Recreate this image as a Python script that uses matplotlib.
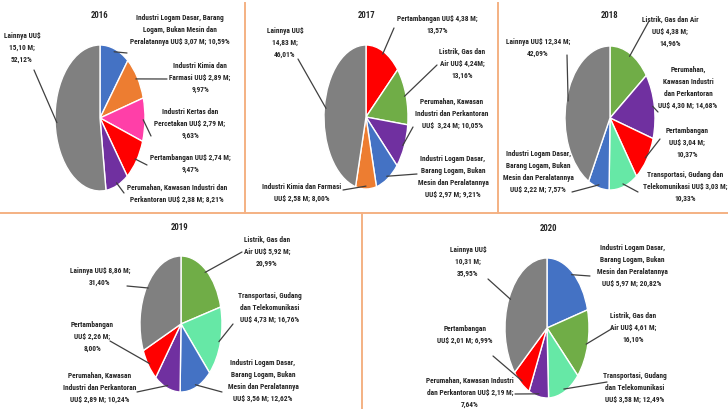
import numpy as np
import matplotlib
matplotlib.use("Agg")
import matplotlib.pyplot as plt
from matplotlib import font_manager as fm
from matplotlib.patches import Rectangle

W, H = 728, 410


def pick_font():
    # reference uses a narrow (Calibri-like) face; take a condensed one if present
    names = {f.name for f in fm.fontManager.ttflist}
    for n in ["Liberation Sans Narrow", "Roboto Condensed", "Open Sans Condensed",
              "Noto Sans Condensed", "DejaVu Sans Condensed", "Open Sans",
              "Noto Sans", "Liberation Sans"]:
        if n in names:
            return n
    return "DejaVu Sans"


FONT = [pick_font(), "DejaVu Sans"]

COLORS = {
    "logam": "#4472C4", "kimia": "#ED7D31", "kertas": "#FF3FA8",
    "tambang": "#FF0000", "rumah": "#7030A0", "listrik": "#70AD47",
    "transport": "#66E8A6", "lain": "#808080",
}

years = ["2016", "2017", "2018", "2019", "2020"]

# sectors clockwise from 12 o'clock, values in US$ billions (M) and shares (%)
sectors_2016 = ["logam", "kimia", "kertas", "tambang", "rumah", "lain"]
values_2016 = [3.07, 2.89, 2.79, 2.74, 2.38, 15.10]
pct_2016 = [10.59, 9.97, 9.63, 9.47, 8.21, 52.12]

sectors_2017 = ["tambang", "listrik", "rumah", "logam", "kimia", "lain"]
values_2017 = [4.38, 4.24, 3.24, 2.97, 2.58, 14.83]
pct_2017 = [13.57, 13.16, 10.05, 9.21, 8.00, 46.01]

sectors_2018 = ["listrik", "rumah", "tambang", "transport", "logam", "lain"]
values_2018 = [4.38, 4.30, 3.04, 3.03, 2.22, 12.34]
pct_2018 = [14.96, 14.68, 10.37, 10.33, 7.57, 42.09]

sectors_2019 = ["listrik", "transport", "logam", "rumah", "tambang", "lain"]
values_2019 = [5.92, 4.73, 3.56, 2.89, 2.26, 8.86]
pct_2019 = [20.99, 16.76, 12.62, 10.24, 8.00, 31.40]

sectors_2020 = ["logam", "listrik", "transport", "rumah", "tambang", "lain"]
values_2020 = [5.97, 4.61, 3.58, 2.19, 2.01, 10.31]
pct_2020 = [20.82, 16.10, 12.49, 7.64, 6.99, 35.95]

labels_2016 = [
    "Industri Logam Dasar, Barang\nLogam, Bukan Mesin dan\nPeralatannya UU$ {v} M; {p}%",
    "Industri Kimia dan\nFarmasi UU$ {v} M;\n{p}%",
    "Industri Kertas dan\nPercetakan UU$ {v} M;\n{p}%",
    "Pertambangan UU$ {v} M;\n{p}%",
    "Perumahan, Kawasan Industri dan\nPerkantoran UU$ {v} M; {p}%",
    "Lainnya UU$\n{v} M;\n{p}%",
]
labels_2017 = [
    "Pertambangan UU$ {v} M;\n{p}%",
    "Listrik, Gas dan\nAir UU$ {v}M;\n{p}%",
    "Perumahan, Kawasan\nIndustri dan Perkantoran\nUU$  {v} M; {p}%",
    "Industri Logam Dasar,\nBarang Logam, Bukan\nMesin dan Peralatannya\nUU$ {v} M; {p}%",
    "Industri Kimia dan Farmasi\nUU$ {v} M; {p}%",
    "Lainnya UU$\n{v} M;\n{p}%",
]
labels_2018 = [
    "Listrik, Gas dan Air\nUU$ {v} M;\n{p}%",
    "Perumahan,\nKawasan Industri\ndan Perkantoran\nUU$ {v} M; {p}%",
    "Pertambangan\nUU$ {v} M;\n{p}%",
    "Transportasi, Gudang dan\nTelekomunikasi UU$ {v} M;\n{p}%",
    "Industri Logam Dasar,\nBarang Logam, Bukan\nMesin dan Peralatannya\nUU$ {v} M; {p}%",
    "Lainnya UU$ {v} M;\n{p}%",
]
labels_2019 = [
    "Listrik, Gas dan\nAir UU$ {v} M;\n{p}%",
    "Transportasi, Gudang\ndan Telekomunikasi\nUU$ {v} M; {p}%",
    "Industri Logam Dasar,\nBarang Logam, Bukan\nMesin dan Peralatannya\nUU$ {v} M; {p}%",
    "Perumahan, Kawasan\nIndustri dan Perkantoran\nUU$ {v} M; {p}%",
    "Pertambangan\nUU$ {v} M;\n{p}%",
    "Lainnya UU$ {v} M;\n{p}%",
]
labels_2020 = [
    "Industri Logam Dasar,\nBarang Logam, Bukan\nMesin dan Peralatannya\nUU$ {v} M; {p}%",
    "Listrik, Gas dan\nAir UU$ {v} M;\n{p}%",
    "Transportasi, Gudang\ndan Telekomunikasi\nUU$ {v} M; {p}%",
    "Perumahan, Kawasan Industri\ndan Perkantoran UU$ {v} M;\n{p}%",
    "Pertambangan\nUU$ {v} M; {p}%",
    "Lainnya UU$\n{v} M;\n{p}%",
]

# layout (pixels): pie centre + radii, title pos, label centres, leader anchors
pies = {
    "2016": dict(c=(100, 119), r=(45, 73), title=(100, 15),
                 txt=[(180, 30), (200, 78), (190, 124), (190, 164), (177, 194), (22, 48)],
                 anc=[(127, 54), (167, 80), (151, 137), (147, 166), (124, 194), (34, 71)]),
    "2017": dict(c=(366, 118), r=(42, 72), title=(367, 15),
                 txt=[(437, 25), (462, 64), (452, 114), (453, 177), (302, 193), (285, 43)],
                 anc=[(394, 29), (437, 66), (413, 128), (417, 175), (343, 191), (298, 60)],
                 clip=True),
    "2018": dict(c=(610, 119), r=(45, 72), title=(610, 16),
                 txt=[(670, 32), (688, 88), (687, 143), (685, 187), (538, 172), (538, 48)],
                 anc=[(649, 22), (658, 113), (660, 140), (638, 193), (572, 193), (567, 56)]),
    "2019": dict(c=(181, 325), r=(41, 68), title=(180, 228),
                 txt=[(267, 252), (270, 308), (263, 381), (100, 388), (92, 337), (100, 277)],
                 anc=[(242, 253), (233, 325), (222, 393), (137, 393), (110, 342), (127, 287)]),
    "2020": dict(c=(547, 329), r=(42, 70), title=(548, 229),
                 txt=[(632, 266), (633, 328), (635, 388), (470, 393), (465, 335), (468, 262)],
                 anc=[(590, 277), (613, 329), (607, 383), (515, 395), (493, 357), (488, 280)]),
}

data = {
    "2016": (sectors_2016, values_2016, pct_2016, labels_2016),
    "2017": (sectors_2017, values_2017, pct_2017, labels_2017),
    "2018": (sectors_2018, values_2018, pct_2018, labels_2018),
    "2019": (sectors_2019, values_2019, pct_2019, labels_2019),
    "2020": (sectors_2020, values_2020, pct_2020, labels_2020),
}


def fmt(x):
    return f"{x:.2f}".replace(".", ",")


fig = plt.figure(figsize=(W / 100, H / 100), dpi=100)
fig.patch.set_facecolor("white")
bg = fig.add_axes([0, 0, 1, 1])
bg.set_xlim(0, W)
bg.set_ylim(H, 0)
bg.axis("off")

# size the label font so a reference line is ~87 px wide, and lines ~13 px apart
renderer = fig.canvas.get_renderer()
probe = bg.text(0, 0, "Industri Logam Dasar, Barang", fontsize=10,
                fontweight="bold", family=FONT)
w10 = probe.get_window_extent(renderer).width
LBL_SIZE = min(7.0, 10 * 87 / w10)
probe.set_fontsize(LBL_SIZE)
probe.set_linespacing(1.0)
probe.set_text("Ag")
h1 = probe.get_window_extent(renderer).height
probe.set_text("Ag\nAg\nAg")
h3 = probe.get_window_extent(renderer).height
probe.remove()
LSPACE = 13.3 / ((h3 - h1) / 2)

# panel separators
line_c = "#F4B183"
bg.plot([0, W], [214, 214], color=line_c, lw=1.4)
bg.plot([245, 245], [4, 214], color=line_c, lw=1.4)
bg.plot([498, 498], [4, 214], color=line_c, lw=1.4)
bg.plot([362, 362], [214, H], color=line_c, lw=1.4)

clip_2017 = Rectangle((246, 0), 246, 213, transform=bg.transData)

for yr in years:
    sec, vals, pcts, labs = data[yr]
    lay = pies[yr]
    cx, cy = lay["c"]
    rx, ry = lay["r"]
    ax = fig.add_axes([(cx - rx) / W, 1 - (cy + ry) / H, 2 * rx / W, 2 * ry / H])
    wedges, _ = ax.pie(vals, colors=[COLORS[s] for s in sec], startangle=90,
                       counterclock=False, radius=1,
                       wedgeprops=dict(edgecolor="white", linewidth=1.0))
    ax.set_aspect("auto")
    ax.set_xlim(-1, 1)
    ax.set_ylim(-1, 1)

    bg.text(lay["title"][0], lay["title"][1], yr, ha="center", va="center",
            fontsize=LBL_SIZE * 1.2, fontweight="bold", family=FONT, color="#262626")

    for i, w in enumerate(wedges):
        mid = np.deg2rad((w.theta1 + w.theta2) / 2)
        r = 0.96
        ax.annotate("", xy=(r * np.cos(mid), r * np.sin(mid)), xycoords="data",
                    xytext=lay["anc"][i], textcoords=bg.transData,
                    arrowprops=dict(arrowstyle="-", color="#404040", lw=0.9,
                                    shrinkA=0, shrinkB=0))
        t = bg.text(lay["txt"][i][0], lay["txt"][i][1],
                    labs[i].format(v=fmt(vals[i]), p=fmt(pcts[i])),
                    ha="center", va="center", multialignment="center",
                    fontsize=LBL_SIZE, fontweight="bold", family=FONT,
                    color="#262626", linespacing=LSPACE)
        if lay.get("clip"):
            t.set_clip_path(clip_2017)
            t.set_clip_on(True)

fig.savefig("out.png", dpi=100)
